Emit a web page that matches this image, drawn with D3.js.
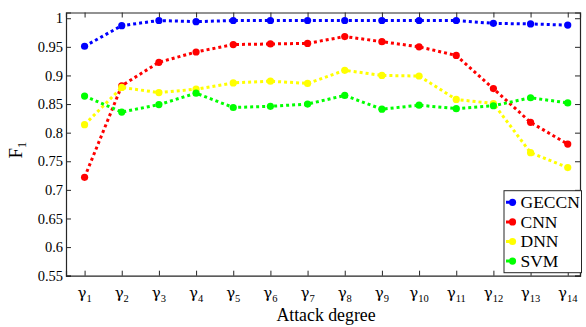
<!DOCTYPE html>
<html>
<head>
<meta charset="utf-8">
<script src="https://cdn.jsdelivr.net/npm/d3@7"></script>
<style>
  body { margin: 0; background: #fff; }
  text { font-family: "Liberation Serif", "Times New Roman", serif; fill: #000; }
  .greek { font-family: "DejaVu Serif", serif; }
</style>
</head>
<body>
<div id="chart"></div>
<script>
var svgWidth = 586;
var svgHeight = 327;

var margin = { top: 12.5, right: 6, bottom: 51.3, left: 66 };
var width = svgWidth - margin.left - margin.right;
var height = svgHeight - margin.top - margin.bottom;

// attack degrees gamma_1 .. gamma_14
var degrees = [1, 2, 3, 4, 5, 6, 7, 8, 9, 10, 11, 12, 13, 14];
var yTicks = [0.55, 0.6, 0.65, 0.7, 0.75, 0.8, 0.85, 0.9, 0.95, 1];

var geccn = [0.951, 0.987, 0.996, 0.994, 0.996, 0.996, 0.996, 0.996, 0.996, 0.996, 0.996, 0.991, 0.990, 0.988];
var cnn = [0.722, 0.882, 0.923, 0.941, 0.954, 0.955, 0.956, 0.968, 0.959, 0.950, 0.935, 0.877, 0.818, 0.780];
var dnn = [0.814, 0.879, 0.870, 0.876, 0.887, 0.890, 0.886, 0.909, 0.900, 0.899, 0.858, 0.851, 0.765, 0.739];
var svm = [0.864, 0.836, 0.849, 0.869, 0.844, 0.846, 0.850, 0.865, 0.841, 0.848, 0.842, 0.847, 0.861, 0.852];

var seriesNames = ['GECCN', 'CNN', 'DNN', 'SVM'];
var seriesColors = ['#0000ff', '#ff0000', '#ffff00', '#00ff00'];
var seriesValues = [geccn, cnn, dnn, svm];

var svg = d3.select('#chart')
  .append('svg')
  .attr('width', svgWidth)
  .attr('height', svgHeight);

var chartGroup = svg.append('g')
  .attr('transform', `translate(${margin.left}, ${margin.top})`);

var xScale = d3.scaleLinear().domain([0.5, 14.33]).range([0, width]);
var yScale = d3.scaleLinear().domain([0.55, 1.01]).range([height, 0]);

// box and inward ticks (matlab style)
var axisColor = '#262626';

var bottomAxis = d3.axisBottom(xScale).tickValues(degrees).tickSize(-5).tickFormat('');
var topAxis = d3.axisTop(xScale).tickValues(degrees).tickSize(-5).tickFormat('');
var leftAxis = d3.axisLeft(yScale).tickValues(yTicks).tickSize(-5).tickPadding(3)
  .tickFormat(d => d === 1 ? '1' : d3.format('')(d));
var rightAxis = d3.axisRight(yScale).tickValues(yTicks).tickSize(-5).tickFormat('');

chartGroup.append('g')
  .attr('transform', `translate(0, ${height})`)
  .call(bottomAxis);
chartGroup.append('g').call(topAxis);
var yAxis = chartGroup.append('g').call(leftAxis);
chartGroup.append('g').attr('transform', `translate(${width}, 0)`).call(rightAxis);

chartGroup.selectAll('.domain').attr('stroke', axisColor).attr('stroke-width', 1.2);
chartGroup.selectAll('.tick line').attr('stroke', axisColor).attr('stroke-width', 1);

yAxis.attr('font-family', null);
yAxis.selectAll('text')
  .style('font-size', '14.5px')
  .style('font-family', '"Liberation Serif", serif');

// x tick labels: gamma with subscript
var xLabels = chartGroup.append('g');
degrees.forEach(function(d) {
  var t = xLabels.append('text')
    .attr('x', xScale(d))
    .attr('y', height + 22)
    .attr('text-anchor', 'middle')
    .style('font-size', '15px');
  t.append('tspan').attr('class', 'greek').text('\u03B3');
  t.append('tspan')
    .style('font-size', '10.5px')
    .attr('dy', 4)
    .text(d);
});

// axis titles
chartGroup.append('text')
  .attr('x', width / 2 + 3)
  .attr('y', height + 45)
  .attr('text-anchor', 'middle')
  .style('font-size', '17.8px')
  .text('Attack degree');

var yTitle = chartGroup.append('text')
  .attr('transform', `translate(${-44}, ${height / 2 + 6}) rotate(-90)`)
  .attr('text-anchor', 'middle')
  .style('font-size', '19px');
yTitle.append('tspan').text('F');
yTitle.append('tspan').style('font-size', '12.5px').attr('dy', 4).text('1');

// lines and markers
var line = d3.line()
  .x((d, i) => xScale(degrees[i]))
  .y(d => yScale(d));

seriesValues.forEach(function(vals, k) {
  var g = chartGroup.append('g');
  g.append('path')
    .datum(vals)
    .attr('d', line)
    .attr('fill', 'none')
    .attr('stroke', seriesColors[k])
    .attr('stroke-width', 3)
    .attr('stroke-dasharray', '3,3');
  g.selectAll('circle')
    .data(vals)
    .enter()
    .append('circle')
    .attr('cx', (d, i) => xScale(degrees[i]))
    .attr('cy', d => yScale(d))
    .attr('r', 3.6)
    .attr('fill', seriesColors[k]);
});

// legend
var legend = chartGroup.append('g')
  .attr('transform', `translate(${504 - margin.left}, ${190.7 - margin.top})`);
legend.append('rect')
  .attr('width', 77.5)
  .attr('height', 82)
  .attr('fill', '#fff')
  .attr('stroke', axisColor)
  .attr('stroke-width', 1);
seriesNames.forEach(function(name, k) {
  var y = 11.6 + k * 19.6;
  legend.append('line')
    .attr('x1', 2).attr('x2', 8.5)
    .attr('y1', y).attr('y2', y)
    .attr('stroke', seriesColors[k])
    .attr('stroke-width', 3)
    .attr('stroke-dasharray', '3,2');
  legend.append('circle')
    .attr('cx', 8.5)
    .attr('cy', y)
    .attr('r', 3.6)
    .attr('fill', seriesColors[k]);
  legend.append('text')
    .attr('x', 16.5)
    .attr('y', y + 6)
    .style('font-size', '17.5px')
    .text(name);
});
</script>
</body>
</html>
